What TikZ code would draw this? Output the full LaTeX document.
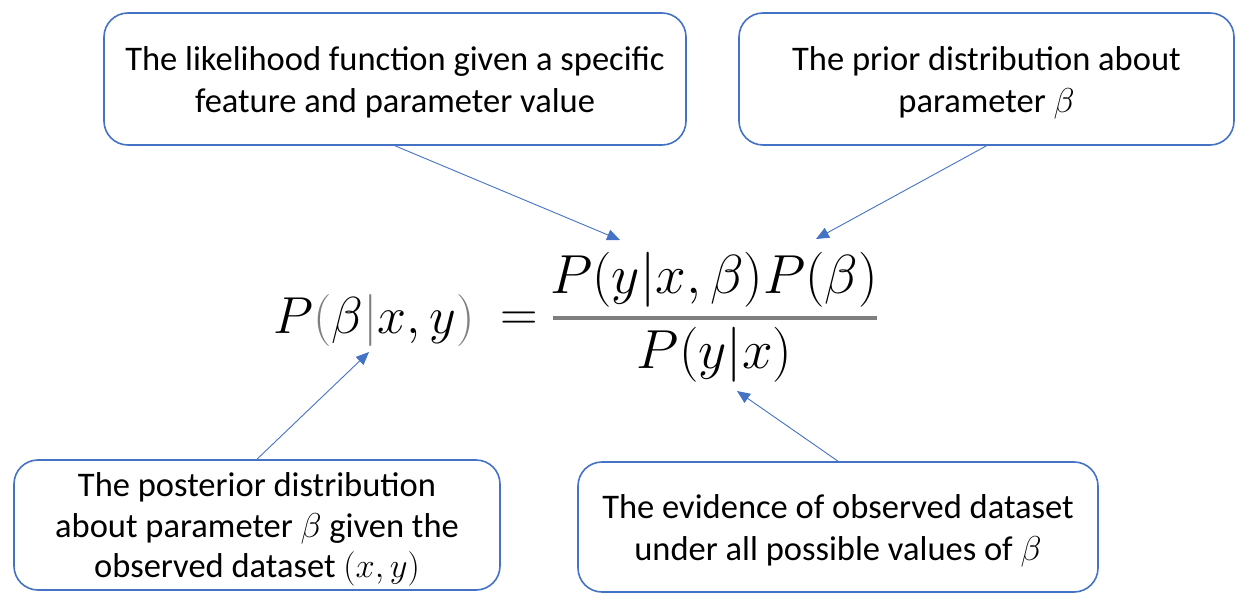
\RequirePackage{fix-cm}
\documentclass[tikz,border=0pt]{standalone}
\usepackage{fontspec}
\setmainfont{Carlito}
\usetikzlibrary{arrows.meta}
\definecolor{boxblue}{HTML}{4472C4}
\definecolor{eqgray}{HTML}{7F7F7F}
\newcommand{\boxlines}[2][42pt]{\raisebox{-4pt}[\height][\depth]{\fontsize{34.5}{#1}\selectfont\begin{tabular}{@{}c@{}}#2\end{tabular}}}
\tikzset{
  infobox/.style={draw=boxblue, line width=1.6pt, rounded corners=24pt, fill=white,
    minimum width=#1, align=center, inner sep=0pt},
  infobox/.default=500pt,
  pointer/.style={draw=boxblue, line width=0.9pt, -{Triangle[length=13pt,width=11pt]}},
  eq/.style={inner sep=0pt, font=\fontsize{52}{60}\selectfont},
  eqbig/.style={inner sep=0pt, font=\fontsize{55}{64}\selectfont}
}
\begin{document}
\begin{tikzpicture}[x=1pt,y=-1pt]
\useasboundingbox (0,0) rectangle (1245,604);
\node[infobox=582pt, minimum height=132pt] (lik) at (395,79) {\boxlines{The likelihood function given a specific\\feature and parameter value}};
\node[infobox=495pt, minimum height=132pt] (prior) at (986.5,79) {\boxlines{The prior distribution about\\parameter $\beta$}};
\node[infobox=486pt, minimum height=130pt] (post) at (257,525) {\boxlines[40.5pt]{The posterior distribution\\about parameter $\beta$ given the\\observed dataset $(x,y)$}};
\node[infobox=520pt, minimum height=130pt] (evid) at (838,527) {\boxlines{The evidence of observed dataset\\under all possible values of $\beta$}};

\node[eq, anchor=base west] (lhs) at (273,333) {$P{\color{eqgray}(}\beta{\color{eqgray}|}x,y{\color{eqgray})}$};
\node[eq, anchor=base] (eqs) at (519,330) {$=$};
\node[eqbig, anchor=base] (num) at (714,293) {$P(y|x,\beta)P(\beta)$};
\node[eqbig, anchor=base] (den) at (714.5,368) {$P(y|x)$};
\draw[eqgray, line width=4.5pt] (553,318) -- (877,318);

\coordinate (t1) at (620,240);
\coordinate (t2) at (816,239);
\coordinate (t3) at (369,352);
\coordinate (t4) at (737,391);
\draw[pointer] (lik.south) -- (t1);
\draw[pointer] (prior.south) -- (t2);
\draw[pointer] (post.north) -- (t3);
\draw[pointer] (evid.north) -- (t4);
\end{tikzpicture}
\end{document}
